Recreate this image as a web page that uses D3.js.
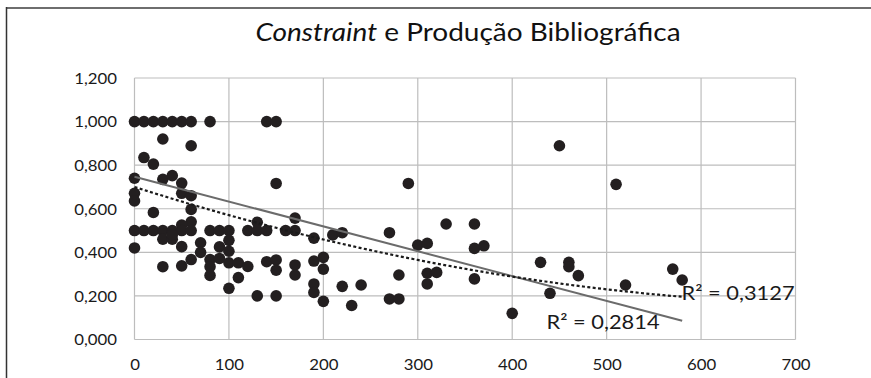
<!DOCTYPE html>
<html>
<head>
<meta charset="utf-8">
<script src="https://cdn.jsdelivr.net/npm/d3@7"></script>
<style>
  html, body { margin: 0; padding: 0; background: #fff; }
  svg { display: block; }
</style>
</head>
<body>
<svg id="chart" width="871" height="378"></svg>
<script>
// Axis ticks
const xTicks = [0, 100, 200, 300, 400, 500, 600, 700];
const yTicks = [0, 0.2, 0.4, 0.6, 0.8, 1.0, 1.2];

// Produção bibliográfica (x) and constraint (y) for each researcher
const producao = [
  0, 10, 20, 30, 40, 50, 60, 80, 140, 150,
  30, 60, 10, 20, 0, 30, 40, 50, 50, 60, 0, 0, 60, 20, 60, 50, 130, 150, 170,
  0, 10, 20, 30, 40, 50, 60, 80, 90, 100, 120, 130, 140, 160, 170,
  30, 40, 40,
  0, 50, 70, 70, 90, 100, 100, 60, 80, 90, 80, 80, 30, 50, 100, 110, 120, 110, 100, 130, 150,
  140, 150, 150, 170, 170, 190, 210, 220, 190, 200, 200, 190, 190, 200, 220, 230, 240,
  270, 290, 300, 310, 330, 360, 360, 370, 270, 280, 280, 310, 310, 320, 360, 400,
  450, 510, 430, 460, 460, 470, 440, 520, 570, 580
];
const constraint = [
  1.0, 1.0, 1.0, 1.0, 1.0, 1.0, 1.0, 1.0, 1.0, 1.0,
  0.92, 0.889, 0.835, 0.805, 0.74, 0.735, 0.752, 0.718, 0.671, 0.66, 0.671, 0.636, 0.597, 0.583, 0.54, 0.525, 0.538, 0.716, 0.557,
  0.5, 0.5, 0.5, 0.5, 0.5, 0.5, 0.5, 0.5, 0.5, 0.5, 0.5, 0.5, 0.5, 0.5, 0.5,
  0.46, 0.46, 0.48,
  0.42, 0.426, 0.444, 0.40, 0.425, 0.455, 0.405, 0.367, 0.367, 0.372, 0.334, 0.294, 0.334, 0.338, 0.352, 0.352, 0.335, 0.284, 0.235, 0.2, 0.2,
  0.357, 0.365, 0.318, 0.342, 0.296, 0.465, 0.48, 0.49, 0.36, 0.377, 0.323, 0.255, 0.216, 0.175, 0.244, 0.156, 0.25,
  0.49, 0.716, 0.433, 0.441, 0.53, 0.53, 0.418, 0.43, 0.186, 0.186, 0.296, 0.304, 0.255, 0.308, 0.278, 0.12,
  0.889, 0.712, 0.354, 0.354, 0.334, 0.293, 0.212, 0.25, 0.323, 0.273
];

// Trendline coefficients (y = c0 + c1·x + c2·x²) and their R² labels
const linearCoef = [0.747, -0.00114];
const polyCoef = [0.700, -0.001382, 8.85e-7];
const r2Linear = "R² = 0,2814";
const r2Poly = "R² = 0,3127";

const points = producao.map((x, i) => ({ x, y: constraint[i] }));

const svg = d3.select("#chart");
const FONT = "Lato, 'Open Sans', sans-serif";
const SX = 1.12; // horizontal widening of the lettering

const x = d3.scaleLinear().domain([0, 700]).range([134.5, 795.5]);
const y = d3.scaleLinear().domain([0, 1.2]).range([339.5, 78]);

const ptBr = d3.formatLocale({ decimal: ",", thousands: ".", grouping: [3], currency: ["", ""] });
const fmtY = ptBr.format(".3f");

// outer chart frame (top and left edges inside the view)
svg.append("line")
  .attr("x1", 6).attr("x2", 871).attr("y1", 8).attr("y2", 8)
  .attr("stroke", "#6e6e6e").attr("stroke-width", 2);
svg.append("line")
  .attr("x1", 6.5).attr("x2", 6.5).attr("y1", 7).attr("y2", 378)
  .attr("stroke", "#333").attr("stroke-width", 1.5);

// helper: text placed at (px,py) and widened horizontally
function label(g, px, py, anchor) {
  return g.append("text")
    .attr("transform", `translate(${px},${py}) scale(${SX},1)`)
    .attr("text-anchor", anchor)
    .attr("font-family", FONT);
}

// title
const title = label(svg, 468, 41, "middle")
  .attr("font-size", 25)
  .attr("fill", "#111");
title.append("tspan").attr("font-style", "italic").text("Constraint");
title.append("tspan").text(" e Produção Bibliográfica");

// gridlines
const grid = svg.append("g").attr("stroke", "#bdbdbd").attr("stroke-width", 1.2).attr("fill", "none");
grid.selectAll("line.h").data(yTicks).join("line")
  .attr("class", "h")
  .attr("x1", x(0)).attr("x2", x(700))
  .attr("y1", d => y(d)).attr("y2", d => y(d));
grid.selectAll("line.v").data(xTicks).join("line")
  .attr("class", "v")
  .attr("x1", d => x(d)).attr("x2", d => x(d))
  .attr("y1", y(0)).attr("y2", y(1.2));

// axis tick labels
const yAxis = d3.axisLeft(y).tickValues(yTicks).tickFormat(fmtY).tickSize(0).tickPadding(0);
const gy = svg.append("g").attr("transform", `translate(${x(0)},0)`).call(yAxis);
gy.select(".domain").remove();
gy.selectAll(".tick text").each(function () {
  const t = d3.select(this.parentNode);
  const txt = this.textContent;
  d3.select(this).remove();
  label(t, -17.5, 5.3, "end").attr("font-size", 15).attr("fill", "#1a1a1a").text(txt);
});

const xAxis = d3.axisBottom(x).tickValues(xTicks).tickFormat(d3.format("d")).tickSize(0).tickPadding(0);
const gx = svg.append("g").attr("transform", `translate(0,${y(0)})`).call(xAxis);
gx.select(".domain").remove();
gx.selectAll(".tick text").each(function () {
  const t = d3.select(this.parentNode);
  const txt = this.textContent;
  d3.select(this).remove();
  label(t, 0, 30.5, "middle").attr("font-size", 15).attr("fill", "#1a1a1a").text(txt);
});

// scatter points
svg.append("g").selectAll("circle").data(points).join("circle")
  .attr("cx", d => x(d.x)).attr("cy", d => y(d.y))
  .attr("r", 5.8)
  .attr("fill", "#231f20");

// trendlines over the data range
const evalPoly = c => xv => c.reduce((s, ck, k) => s + ck * xv ** k, 0);
const xMin = d3.min(points, d => d.x);
const xMax = d3.max(points, d => d.x);
const samples = d3.range(xMin, xMax + 0.001, 5);
const lineGen = f => d3.line().x(d => x(d)).y(d => y(f(d)));

svg.append("path")
  .attr("d", lineGen(evalPoly(linearCoef))([xMin, xMax]))
  .attr("fill", "none")
  .attr("stroke", "#6b6b6b")
  .attr("stroke-width", 2);

svg.append("path")
  .attr("d", lineGen(evalPoly(polyCoef))(samples))
  .attr("fill", "none")
  .attr("stroke", "#1a1a1a")
  .attr("stroke-width", 2.2)
  .attr("stroke-dasharray", "3,2.4");

// R² labels
label(svg, 546.5, 328.5, "start").attr("font-size", 19.5).attr("fill", "#1a1a1a").text(r2Linear);
label(svg, 681.5, 299.5, "start").attr("font-size", 19.5).attr("fill", "#1a1a1a").text(r2Poly);
</script>
</body>
</html>
